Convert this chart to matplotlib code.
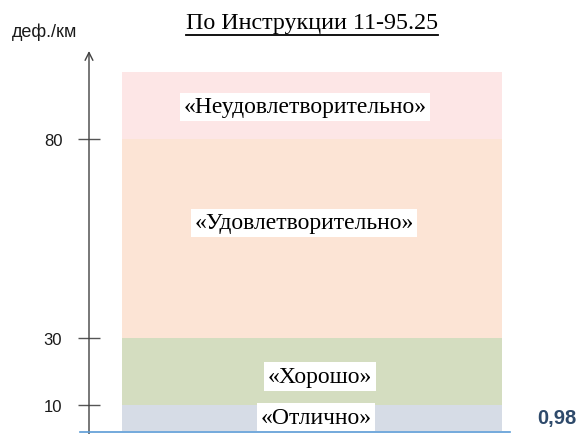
import numpy as np
import matplotlib
matplotlib.use("Agg")
import matplotlib.pyplot as plt

# ---- data ----
band_bounds = [0, 10, 30, 80, 100]
band_labels = ["«Отлично»", "«Хорошо»", "«Удовлетворительно»", "«Неудовлетворительно»"]
band_colors = ["#D6DCE6", "#D4DDC0", "#FCE4D5", "#FDE6E6"]
tick_values = [10, 30, 80]
tick_labels = ["10", "30", "80"]
current_value_label = "0,98"
title = "По Инструкции 11-95.25"
ylabel = "деф./км"

# ---- layout (schematic, non-linear axis) ----
W, H = 577, 435
scale_vals = np.array([-20, 0, 10, 30, 80, 100, 150], dtype=float)
scale_pix = np.array([484, 432, 406, 339, 140, 73, -94.5], dtype=float)
scale_pos = H - scale_pix

def fwd(v):
    return np.interp(v, scale_vals, scale_pos)

def inv(p):
    return np.interp(p, scale_pos, scale_vals)

fig = plt.figure(figsize=(W / 100, H / 100), dpi=100)
ax = fig.add_axes([0, 0, 1, 1])
ax.set_yscale("function", functions=(fwd, inv))
ax.set_xlim(0, W)
ax.set_ylim(inv(0), inv(H))
for s in ax.spines.values():
    s.set_visible(False)
ax.set_xticks([])

# bands
band_left, band_right = 122, 502
for i, lab in enumerate(band_labels):
    lo, hi = band_bounds[i], band_bounds[i + 1]
    ax.bar((band_left + band_right) / 2, hi - lo, bottom=lo,
           width=band_right - band_left, color=band_colors[i], zorder=1)

label_pos = [(316, 5.2), (320, 18.5), (304, 58.9), (305, 89.6)]
for (x, y), lab in zip(label_pos, band_labels):
    ax.text(x, y, lab, ha="center", va="center", fontsize=17,
            family="Liberation Serif", zorder=3,
            bbox=dict(facecolor="white", edgecolor="none", pad=2.5))

# axis with arrow
axis_x = 89
ax.annotate("", xy=(axis_x, inv(H - 52)), xytext=(axis_x, inv(0)),
            arrowprops=dict(arrowstyle="->", color="#404040", lw=1.0,
                            shrinkA=0, shrinkB=0, mutation_scale=14),
            zorder=4)
ax.spines["left"].set_position(("data", axis_x))
ax.set_yticks(tick_values)
ax.set_yticklabels(tick_labels)
ax.tick_params(axis="y", direction="inout", length=16.5, width=1.0,
               color="#555555", pad=11, labelsize=12)
for t in ax.get_yticklabels():
    t.set_family("Liberation Sans")
    t.set_color("#1a1a1a")

# bottom baseline
ax.plot([80, 510], [inv(H - 433)] * 2, color="#5B9BD5", lw=1.2, zorder=4)

# texts
ax.text(12, inv(H - 32), ylabel, ha="left", va="center", fontsize=13,
        family="Liberation Sans", color="#1a1a1a")
ax.text(576, 5.2, current_value_label, ha="right", va="center", fontsize=14.5,
        fontweight="bold", family="Liberation Sans", color="#2E4A6B")
t = fig.text(312 / W, 1 - 24 / H, title, ha="center", va="center",
             fontsize=17.3, family="Liberation Serif")
fig.canvas.draw()
bb = t.get_window_extent()
fig.lines.append(plt.Line2D([bb.x0 / W, bb.x1 / W], [(bb.y0 - 1) / H] * 2,
                            transform=fig.transFigure, color="black", lw=1.3))

fig.savefig("out.png", dpi=100)
